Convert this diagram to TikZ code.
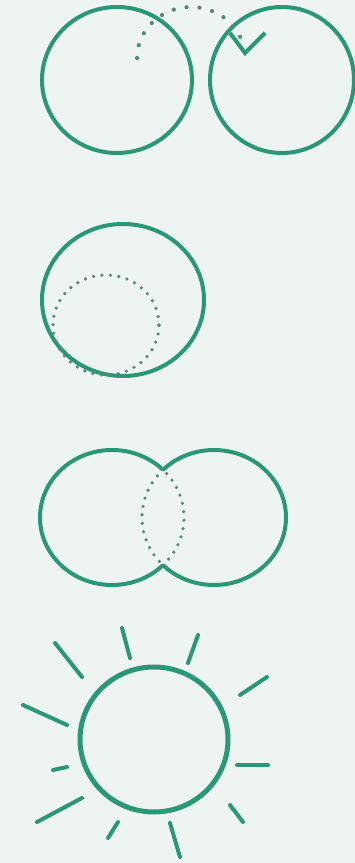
\documentclass[tikz,border=0pt]{standalone}
\usepackage{tikz}
\definecolor{leaf}{HTML}{2A9876}
\definecolor{dotgrey}{HTML}{55887A}
\definecolor{paper}{HTML}{EEF4F2}

\begin{document}
\begin{tikzpicture}[x=1pt, y=1pt, ring/.style={draw=leaf, line width=4pt}, ray/.style={draw=leaf, line width=4pt, line cap=round}, dots/.style={draw=dotgrey, line width=3.6pt, line cap=round, dash pattern=on 0pt off 8.5pt}]

\fill[paper] (0,0) rectangle (355,863);
\useasboundingbox (0,0) rectangle (355,863);

% apart
\draw[ring] (117,783) ellipse (75pt and 73pt);
\draw[ring] (282,783) ellipse (72pt and 73pt);
\draw[dots, line width=4.2pt, dash pattern=on 0pt off 13pt] (191,805) ++(180:54 and 51) arc[start angle=180, end angle=22, x radius=54pt, y radius=51pt];
\draw[ray, line cap=butt, line join=miter] (230,830) -- (245,810) -- (265,830);

% inside
\draw[ring] (123,563) ellipse (81pt and 76pt);
\draw[dots] (106,538) ellipse (53pt and 50pt);

% overlap
\draw[ring] (112,345.5) ++(45:72 and 67.5) arc[start angle=45, end angle=315, x radius=72pt, y radius=67.5pt];
\draw[ring] (214,345.5) ++(-135:72 and 67.5) arc[start angle=-135, end angle=135, x radius=72pt, y radius=67.5pt];
\draw[dots] (112,345.5) ++(-45:72 and 67.5) arc[start angle=-45, end angle=45, x radius=72pt, y radius=67.5pt];
\draw[dots] (214,345.5) ++(135:72 and 67.5) arc[start angle=135, end angle=225, x radius=72pt, y radius=67.5pt];

% sun
\draw[ring, line width=5pt] (154,123.5) ellipse (74pt and 72.5pt);
\foreach \p/\q in {{55,220}/{82,186}, {122,235}/{130,205}, {198,228}/{188,200}, {267,186}/{240,168}, {237,98}/{268,98}, {230,58}/{243,41}, {170,40}/{180,6}, {118,41}/{108,25}, {82,65}/{37,41}, {67,96}/{53,93}, {67,138}/{23,158}} {
    \draw[ray] (\p) -- (\q);
}

\end{tikzpicture}
\end{document}
